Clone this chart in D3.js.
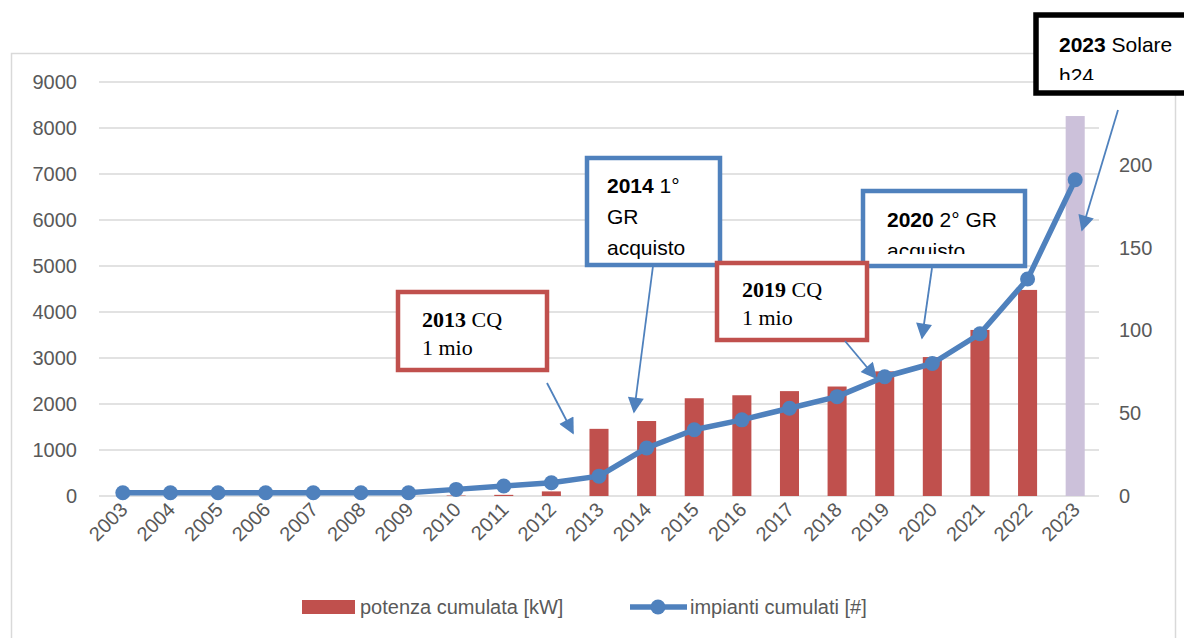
<!DOCTYPE html>
<html>
<head>
<meta charset="utf-8">
<script src="https://cdn.jsdelivr.net/npm/d3@7"></script>
<style>
  html, body { margin: 0; padding: 0; background: #fff; }
  svg { display: block; }
</style>
</head>
<body>
<svg id="chart" width="1184" height="638"></svg>
<script>
// ---------- data ----------
const years = ["2003","2004","2005","2006","2007","2008","2009","2010","2011","2012","2013",
               "2014","2015","2016","2017","2018","2019","2020","2021","2022","2023"];
const potenza = [0,0,0,0,0,0,0,10,25,100,1460,1630,2125,2190,2280,2380,2710,3020,3610,4480,8260];
const impianti = [2,2,2,2,2,2,2,4,6,8,12,29,40,46,53,60,72,80,98,131,191];
const leftTicks = [0,1000,2000,3000,4000,5000,6000,7000,8000,9000];
const rightTicks = [0,50,100,150,200,250];
const seriesNames = ["potenza cumulata [kW]", "impianti cumulati [#]"];
const highlightYear = "2023";

// annotations (text content)
const annotations = [
  { kind: "red",   lines: [[["2013", true], [" CQ", false]], [["1 mio", false]]] },
  { kind: "blue",  lines: [[["2014", true], [" 1°", false]], [["GR", false]], [["acquisto", false]]] },
  { kind: "blue",  lines: [[["2020", true], [" 2° GR", false]], [["acquisto", false]]] },
  { kind: "red",   lines: [[["2019", true], [" CQ", false]], [["1 mio", false]]] },
  { kind: "black", lines: [[["2023", true], [" Solare", false]], [["h24", false]]] }
];
// layout of annotation boxes and arrows (pixels)
const annLayout = [
  { box: [398, 292, 149, 78],  tx: 24, ty: 35, lh: 28, clipB: 8,  arrow: [547, 383, 573, 433] },
  { box: [587, 158, 133, 107], tx: 20, ty: 35, lh: 31, clipB: 6,  arrow: [653, 266, 634, 412] },
  { box: [863, 191, 162, 75],  tx: 24, ty: 36, lh: 31, clipB: 12, arrow: [932, 268, 922, 338] },
  { box: [717, 263, 150, 77],  tx: 25, ty: 34, lh: 28, clipB: 8,  arrow: [845, 341, 876, 378] },
  { box: [1036, 15, 170, 78],  tx: 23, ty: 37, lh: 31, clipB: 13, arrow: [1118, 110, 1082, 230] }
];

// ---------- setup ----------
const svg = d3.select("#chart");
const W = 1184, H = 638;
const plot = { left: 99, right: 1099, top: 82, bottom: 496 };
const sans = "'Liberation Sans', Arial, sans-serif";
const serif = "'Liberation Serif', 'Times New Roman', serif";
const axisColor = "#595959";
const barColor = "#c0504d";
const hiColor = "#ccc1da";
const lineColor = "#4f81bd";
const gridColor = "#d9d9d9";

svg.append("rect").attr("width", W).attr("height", H).attr("fill", "#fff");
// chart area border
svg.append("rect").attr("x", 11.5).attr("y", 53.5).attr("width", 1164).attr("height", 600)
   .attr("fill", "none").attr("stroke", gridColor).attr("stroke-width", 1.5);

const x = d3.scaleBand().domain(years).range([plot.left, plot.right]).padding(0);
const yL = d3.scaleLinear().domain([0, 9000]).range([plot.bottom, plot.top]);
const yR = d3.scaleLinear().domain([0, 250]).range([plot.bottom, plot.top]);

// gridlines (left axis)
svg.append("g").selectAll("line").data(leftTicks).join("line")
  .attr("x1", plot.left).attr("x2", plot.right)
  .attr("y1", d => yL(d)).attr("y2", d => yL(d))
  .attr("stroke", gridColor).attr("stroke-width", 1.5);

// left axis labels
const axL = d3.axisLeft(yL).tickValues(leftTicks).tickSize(0).tickPadding(0).tickFormat(d3.format("d"));
const gL = svg.append("g").attr("transform", `translate(77,0)`).call(axL);
gL.select(".domain").remove();
gL.selectAll("text").attr("fill", axisColor).style("font-family", sans).style("font-size", "20px");

// right axis labels
const axR = d3.axisRight(yR).tickValues(rightTicks).tickSize(0).tickPadding(0).tickFormat(d3.format("d"));
const gR = svg.append("g").attr("transform", `translate(1119,0)`).call(axR);
gR.select(".domain").remove();
gR.selectAll("text").attr("fill", axisColor).style("font-family", sans).style("font-size", "20px");

// bars
const barW = x.bandwidth() * 0.4;
svg.append("g").selectAll("rect").data(years.map((y, i) => ({ y, v: potenza[i] }))).join("rect")
  .attr("x", d => x(d.y) + (x.bandwidth() - barW) / 2)
  .attr("y", d => yL(d.v))
  .attr("width", barW)
  .attr("height", d => yL(0) - yL(d.v))
  .attr("fill", d => d.y === highlightYear ? hiColor : barColor);

// line
const lineData = years.map((y, i) => ({ y, v: impianti[i] }));
const line = d3.line().x(d => x(d.y) + x.bandwidth() / 2).y(d => yR(d.v));
svg.append("path").datum(lineData).attr("d", line)
  .attr("fill", "none").attr("stroke", lineColor).attr("stroke-width", 5.5)
  .attr("stroke-linejoin", "round");
svg.append("g").selectAll("circle").data(lineData).join("circle")
  .attr("cx", d => x(d.y) + x.bandwidth() / 2).attr("cy", d => yR(d.v))
  .attr("r", 7.5).attr("fill", lineColor);

// x axis labels (rotated)
svg.append("g").selectAll("text").data(years).join("text")
  .attr("transform", d => `translate(${x(d) + x.bandwidth() / 2 + 6},511) rotate(-45)`)
  .attr("text-anchor", "end")
  .attr("fill", axisColor).style("font-family", sans).style("font-size", "20px")
  .text(d => d);

// legend
const lg = svg.append("g");
lg.append("rect").attr("x", 302).attr("y", 600).attr("width", 53).attr("height", 14).attr("fill", barColor);
lg.append("text").attr("x", 360).attr("y", 614).attr("fill", axisColor)
  .style("font-family", sans).style("font-size", "20px").text(seriesNames[0]);
lg.append("line").attr("x1", 630).attr("x2", 687).attr("y1", 607).attr("y2", 607)
  .attr("stroke", lineColor).attr("stroke-width", 5.5);
lg.append("circle").attr("cx", 658).attr("cy", 607).attr("r", 7.5).attr("fill", lineColor);
lg.append("text").attr("x", 690).attr("y", 614).attr("fill", axisColor)
  .style("font-family", sans).style("font-size", "20px").text(seriesNames[1]);

// annotations
const defs = svg.append("defs");
defs.append("marker").attr("id", "arrowhead").attr("viewBox", "0 0 10 10")
  .attr("refX", 9).attr("refY", 5).attr("markerWidth", 20).attr("markerHeight", 16)
  .attr("markerUnits", "userSpaceOnUse").attr("orient", "auto")
  .append("path").attr("d", "M0,0 L10,5 L0,10 Z").attr("fill", lineColor);

const strokeOf = { red: barColor, blue: lineColor, black: "#000" };
const widthOf = { red: 4.5, blue: 4.5, black: 5.5 };
annotations.forEach((a, i) => {
  const L = annLayout[i];
  const [bx, by, bw, bh] = L.box;
  const g = svg.append("g");
  const clipId = "clip" + i;
  defs.append("clipPath").attr("id", clipId).append("rect")
    .attr("x", bx + 4).attr("y", by + 4).attr("width", bw - 8).attr("height", bh - 4 - L.clipB);
  g.append("rect").attr("x", bx).attr("y", by).attr("width", bw).attr("height", bh)
    .attr("fill", "#fff").attr("stroke", strokeOf[a.kind]).attr("stroke-width", widthOf[a.kind]);
  const isSerif = a.kind === "red";
  const t = g.append("g").attr("clip-path", `url(#${clipId})`);
  a.lines.forEach((ln, j) => {
    const te = t.append("text").attr("x", bx + L.tx).attr("y", by + L.ty + j * L.lh)
      .attr("fill", "#000")
      .style("font-family", isSerif ? serif : sans)
      .style("font-size", isSerif ? "22px" : "21px");
    ln.forEach(([s, bold]) => {
      te.append("tspan").attr("font-weight", bold ? "bold" : "normal").text(s);
    });
  });
  const [x1, y1, x2, y2] = L.arrow;
  svg.append("line").attr("x1", x1).attr("y1", y1).attr("x2", x2).attr("y2", y2)
    .attr("stroke", lineColor).attr("stroke-width", 1.8)
    .attr("marker-end", "url(#arrowhead)");
});
</script>
</body>
</html>
